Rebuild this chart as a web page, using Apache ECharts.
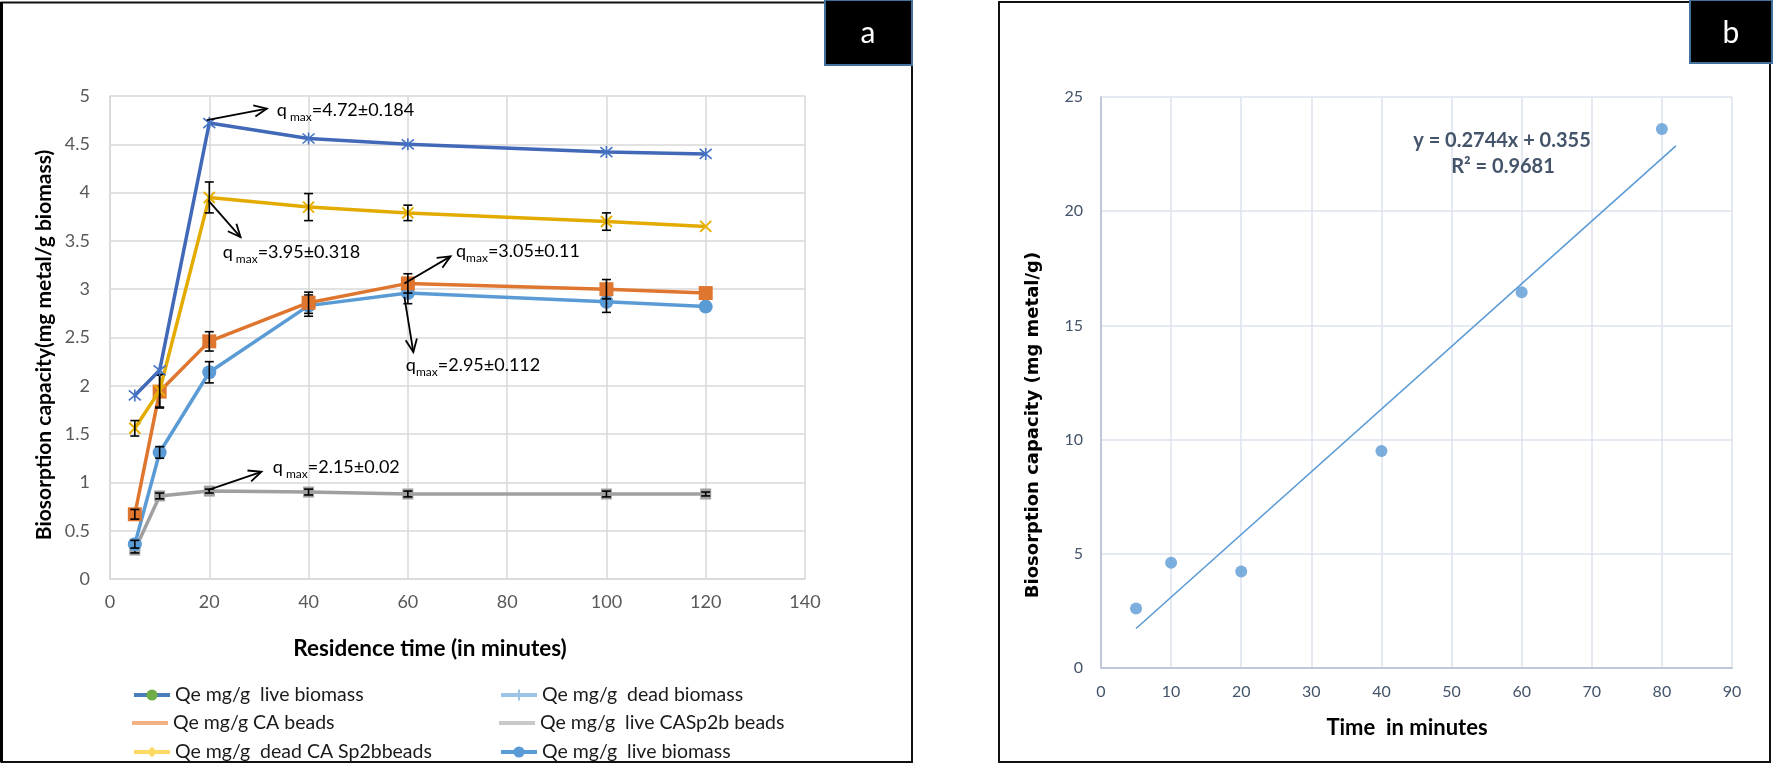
<!DOCTYPE html>
<html><head><meta charset="utf-8">
<script src="https://cdn.jsdelivr.net/npm/echarts@6/dist/echarts.min.js"></script>
<style>html,body{margin:0;padding:0;background:#fff}#c{width:1774px;height:764px}</style>
</head><body><div id="c"></div>
<script>
// ---------- Panel a data ----------
const timeA = [5, 10, 20, 40, 60, 100, 120];
const darkBlueA = [1.90, 2.16, 4.72, 4.56, 4.50, 4.42, 4.40];
const goldA     = [1.56, 1.95, 3.95, 3.85, 3.79, 3.70, 3.65];
const orangeA   = [0.67, 1.94, 2.46, 2.86, 3.06, 3.00, 2.96];
const lightBlueA= [0.36, 1.31, 2.14, 2.83, 2.96, 2.87, 2.82];
const greyA     = [0.30, 0.86, 0.91, 0.90, 0.88, 0.88, 0.88];
const goldErr      = [0.08, 0.17, 0.16, 0.14, 0.08, 0.09, 0];
const orangeErr    = [0.05, 0.17, 0.10, 0.11, 0.10, 0.10, 0];
const lightBlueErr = [0.04, 0.06, 0.11, 0.11, 0.11, 0.11, 0];
const greyErr      = [0.03, 0.03, 0.02, 0.03, 0.03, 0.03, 0.02];
const xTicksA = [0, 20, 40, 60, 80, 100, 120, 140];
const yTicksA = [0, 0.5, 1, 1.5, 2, 2.5, 3, 3.5, 4, 4.5, 5];
const legendNames = [
  'Qe mg/g  live biomass', 'Qe mg/g  dead biomass',
  'Qe mg/g CA beads', 'Qe mg/g  live CASp2b beads',
  'Qe mg/g  dead CA Sp2bbeads', 'Qe mg/g  live biomass '
];
const legendLineColors   = ['#4A7EBB', '#9DC3E6', '#F4B183', '#C9C9C9', '#FFD966', '#5B9BD5'];
const legendMarkerColors = ['#70AD47', '#9DC3E6', null, null, '#FFD966', '#5B9BD5'];
// annotation arrows (data coordinates): start, end, text anchor
const annotFrom = [[19.5, 4.75], [19.8, 3.92], [59.3, 3.06], [59.3, 2.92], [19.7, 0.92]];
const annotTo   = [[31.6, 4.87], [26.3, 3.54], [68.6, 3.34], [61.1, 2.35], [30.5, 1.11]];
const annotAt   = [[33.6, 4.855], [22.7, 3.38], [69.7, 3.39], [59.6, 2.215], [32.8, 1.16]];
const annotSub  = [' max', ' max', 'max', 'max', ' max'];
const annotVal  = ['=4.72±0.184', '=3.95±0.318', '=3.05±0.11', '=2.95±0.112', '=2.15±0.02'];

// ---------- Panel b data ----------
const timeB = [5, 10, 20, 40, 60, 80];
const capB  = [2.61, 4.61, 4.22, 9.50, 16.45, 23.6];
const trendX = [5, 82];
const trendY = [1.73, 22.86];
const eqLines = ['y = 0.2744x + 0.355', 'R² = 0.9681'];

const FONT = 'Lato, "Open Sans", sans-serif';
const pairs = (xs, ys) => xs.map((x, i) => [x, ys[i]]);
const triples = (xs, ys, es) => xs.map((x, i) => [x, ys[i], es[i]]);

function errRender(params, api) {
  const x = api.value(0), y = api.value(1), e = api.value(2);
  if (!e) return null;
  const t = api.coord([x, y + e]), b = api.coord([x, y - e]);
  const c = 4.5, st = {stroke: '#000', lineWidth: 1.6};
  return {type: 'group', children: [
    {type: 'line', shape: {x1: t[0], y1: t[1], x2: b[0], y2: b[1]}, style: st},
    {type: 'line', shape: {x1: t[0] - c, y1: t[1], x2: t[0] + c, y2: t[1]}, style: st},
    {type: 'line', shape: {x1: b[0] - c, y1: b[1], x2: b[0] + c, y2: b[1]}, style: st}
  ]};
}
function annotRender(params, api) {
  const i = params.dataIndex;
  const p0 = api.coord(annotFrom[i]), p1 = api.coord(annotTo[i]), t = api.coord(annotAt[i]);
  const ang = Math.atan2(p1[1] - p0[1], p1[0] - p0[0]);
  const L = 14, A = 0.42;
  const h1 = [p1[0] - L * Math.cos(ang - A), p1[1] - L * Math.sin(ang - A)];
  const h2 = [p1[0] - L * Math.cos(ang + A), p1[1] - L * Math.sin(ang + A)];
  const st = {stroke: '#000', lineWidth: 1.8, fill: null};
  return {type: 'group', children: [
    {type: 'line', shape: {x1: p0[0], y1: p0[1], x2: p1[0], y2: p1[1]}, style: st},
    {type: 'polyline', shape: {points: [h1, p1, h2]}, style: st},
    {type: 'text', x: t[0], y: t[1], style: {
      text: '{n|q}{s|' + annotSub[i] + '}{n|' + annotVal[i] + '}',
      verticalAlign: 'middle', align: 'left',
      rich: {
        n: {fontSize: 18, fontFamily: FONT, fill: '#000', lineHeight: 26, verticalAlign: 'middle'},
        s: {fontSize: 12, fontFamily: FONT, fill: '#000', verticalAlign: 'bottom'}
      }
    }}
  ]};
}

const asterisk = 'path://M0,0L10,10M10,0L0,10M5,-1L5,11';
const cross = 'path://M0,0L10,10M10,0L0,10';
const plus = 'path://M5,0L5,10M0,5L10,5';
const legendSymbols = ['circle', plus, 'none', 'none', 'diamond', 'circle'];

const axisLabelA = {color: '#595959', fontSize: 18, fontFamily: FONT};
const axisLabelB = {color: '#44546A', fontSize: 16, fontFamily: FONT};

function legendItemStyle(i) {
  const m = legendMarkerColors[i];
  if (!m) return {color: legendLineColors[i], borderWidth: 0};
  if (i === 1) return {color: m, borderColor: m, borderWidth: 2};
  return {color: m, borderWidth: 0};
}
// legend-only series (the legend in the reference uses its own styles)
const legendSeries = legendNames.map((n, i) => ({
  name: n, type: 'line', data: [], xAxisIndex: 0, yAxisIndex: 0,
  symbol: legendSymbols[i], symbolSize: 10,
  lineStyle: {color: legendLineColors[i], width: 4},
  itemStyle: legendItemStyle(i)
}));
const legendRowTop = [680, 708, 737];
const legendColLeft = [127, 494];
const legends = legendNames.map((n, i) => {
  const plain = !legendMarkerColors[i];
  const item = {name: n, itemStyle: legendItemStyle(i), lineStyle: {color: legendLineColors[i], width: 4}};
  if (plain) item.icon = 'rect';
  return {
    orient: 'horizontal', left: legendColLeft[i % 2],
    top: legendRowTop[Math.floor(i / 2)],
    itemWidth: 36, itemHeight: plain ? 4 : 14, itemGap: 8, selectedMode: false,
    data: [item],
    textStyle: {fontSize: 19.5, fontFamily: FONT, color: '#1a1a1a', lineHeight: 20}
  };
});

function lineA(data, color, symbol, size, markerStyle, z) {
  return {type: 'line', data: data, xAxisIndex: 0, yAxisIndex: 0, symbol: symbol, symbolSize: size,
    showSymbol: true, lineStyle: {color: color, width: 3.5}, itemStyle: markerStyle, z: z, silent: true,
    animation: false};
}
function errSeries(data, z) {
  return {type: 'custom', xAxisIndex: 0, yAxisIndex: 0, data: data, renderItem: errRender,
    encode: {x: 0, y: 1}, z: z, silent: true, animation: false};
}

const chart = echarts.init(document.getElementById('c'));
chart.setOption({
  animation: false,
  backgroundColor: '#fff',
  grid: [
    {left: 110, top: 96, width: 695, height: 483, outerBoundsMode: 'none', containLabel: false},
    {left: 1101, top: 97, width: 631, height: 571, outerBoundsMode: 'none', containLabel: false}
  ],
  xAxis: [
    {type: 'value', gridIndex: 0, min: xTicksA[0], max: xTicksA[xTicksA.length - 1], interval: 20,
      axisLine: {show: true, onZero: false, lineStyle: {color: '#D9D9D9', width: 1.5}}, axisTick: {show: false},
      axisLabel: Object.assign({margin: 14}, axisLabelA),
      splitLine: {show: true, lineStyle: {color: '#D9D9D9', width: 1.5}}},
    {type: 'value', gridIndex: 1, min: 0, max: 90, interval: 10,
      axisLine: {show: true, onZero: false, lineStyle: {color: '#BFC8D8', width: 2}}, axisTick: {show: false},
      axisLabel: Object.assign({margin: 16}, axisLabelB),
      splitLine: {show: true, lineStyle: {color: '#DCE2EC', width: 1.5}}}
  ],
  yAxis: [
    {type: 'value', gridIndex: 0, min: yTicksA[0], max: yTicksA[yTicksA.length - 1], interval: 0.5,
      axisLine: {show: true, lineStyle: {color: '#D9D9D9', width: 1.5}}, axisTick: {show: false},
      axisLabel: Object.assign({margin: 20}, axisLabelA),
      splitLine: {show: true, lineStyle: {color: '#D9D9D9', width: 1.5}}},
    {type: 'value', gridIndex: 1, min: 0, max: 25, interval: 5,
      axisLine: {show: true, lineStyle: {color: '#BFC8D8', width: 2}}, axisTick: {show: false},
      axisLabel: Object.assign({margin: 18}, axisLabelB),
      splitLine: {show: true, lineStyle: {color: '#DCE2EC', width: 1.5}}}
  ],
  legend: legends,
  series: legendSeries.concat([
    lineA(pairs(timeA, greyA), '#A0A0A0', 'rect', 11, {color: '#A0A0A0'}, 3),
    errSeries(triples(timeA, greyA, greyErr), 4),
    lineA(pairs(timeA, lightBlueA), '#5B9BD5', 'circle', 14, {color: '#5B9BD5'}, 5),
    errSeries(triples(timeA, lightBlueA, lightBlueErr), 6),
    lineA(pairs(timeA, orangeA), '#DF7630', 'rect', 14, {color: '#DF7630'}, 7),
    errSeries(triples(timeA, orangeA, orangeErr), 8),
    lineA(pairs(timeA, goldA), '#E3AB00', cross, 11, {color: 'rgba(0,0,0,0)', borderColor: '#E8B000', borderWidth: 2}, 9),
    errSeries(triples(timeA, goldA, goldErr), 10),
    lineA(pairs(timeA, darkBlueA), '#4169B8', asterisk, 12, {color: 'rgba(0,0,0,0)', borderColor: '#4472C4', borderWidth: 1.6}, 11),
    {type: 'custom', xAxisIndex: 0, yAxisIndex: 0, data: annotFrom, renderItem: annotRender,
      encode: {x: 0, y: 1}, z: 20, silent: true, clip: false},
    {type: 'line', xAxisIndex: 1, yAxisIndex: 1, data: pairs(trendX, trendY), symbol: 'none',
      lineStyle: {color: '#5B9BD5', width: 1.6}, silent: true, z: 3},
    {type: 'scatter', xAxisIndex: 1, yAxisIndex: 1, data: pairs(timeB, capB), symbol: 'circle',
      symbolSize: 12, itemStyle: {color: '#5B9BD5'}, silent: true, z: 4}
  ]),
  graphic: [
    // panel frames
    {type: 'rect', shape: {x: 1.5, y: 2.5, width: 910.5, height: 759.5}, style: {fill: null, stroke: '#111', lineWidth: 2}, z: 50},
    {type: 'line', shape: {x1: 1.5, y1: 2, x2: 1.5, y2: 762}, style: {stroke: '#000', lineWidth: 3}, z: 50},
    {type: 'rect', shape: {x: 999, y: 2, width: 771, height: 760}, style: {fill: null, stroke: '#111', lineWidth: 2}, z: 50},
    // label boxes
    {type: 'rect', shape: {x: 825, y: 0, width: 87, height: 65}, style: {fill: '#000', stroke: '#41719C', lineWidth: 2}, z: 60},
    {type: 'text', x: 868, y: 33, style: {text: 'a', fill: '#fff', font: '30px ' + FONT, align: 'center', verticalAlign: 'middle'}, z: 61},
    {type: 'rect', shape: {x: 1690, y: 0, width: 82, height: 63}, style: {fill: '#000', stroke: '#41719C', lineWidth: 2}, z: 60},
    {type: 'text', x: 1731, y: 33, style: {text: 'b', fill: '#fff', font: '30px ' + FONT, align: 'center', verticalAlign: 'middle'}, z: 61},
    // axis titles panel a
    {type: 'text', x: 44, y: 345, rotation: Math.PI / 2, style: {text: 'Biosorption capacity(mg metal/g biomass)', fill: '#000', font: 'bold 21px ' + FONT, align: 'center', verticalAlign: 'middle'}, z: 40},
    {type: 'text', x: 430, y: 649, style: {text: 'Residence time (in minutes)', fill: '#000', font: 'bold 22.5px ' + FONT, align: 'center', verticalAlign: 'middle'}, z: 40},
    // axis titles panel b
    {type: 'text', x: 1033, y: 425, rotation: Math.PI / 2, style: {text: 'Biosorption capacity (mg metal/g)', fill: '#000', font: 'bold 18px "DejaVu Sans", sans-serif', align: 'center', verticalAlign: 'middle'}, z: 40},
    {type: 'text', x: 1407, y: 728, style: {text: 'Time  in minutes', fill: '#000', font: 'bold 22px ' + FONT, align: 'center', verticalAlign: 'middle'}, z: 40},
    // trendline equation
    {type: 'text', x: 1502, y: 141, style: {text: eqLines[0], fill: '#44546A', font: 'bold 20px ' + FONT, align: 'center', verticalAlign: 'middle'}, z: 40},
    {type: 'text', x: 1503, y: 167, style: {text: eqLines[1], fill: '#44546A', font: 'bold 20px ' + FONT, align: 'center', verticalAlign: 'middle'}, z: 40}
  ]
});
</script>
</body></html>
